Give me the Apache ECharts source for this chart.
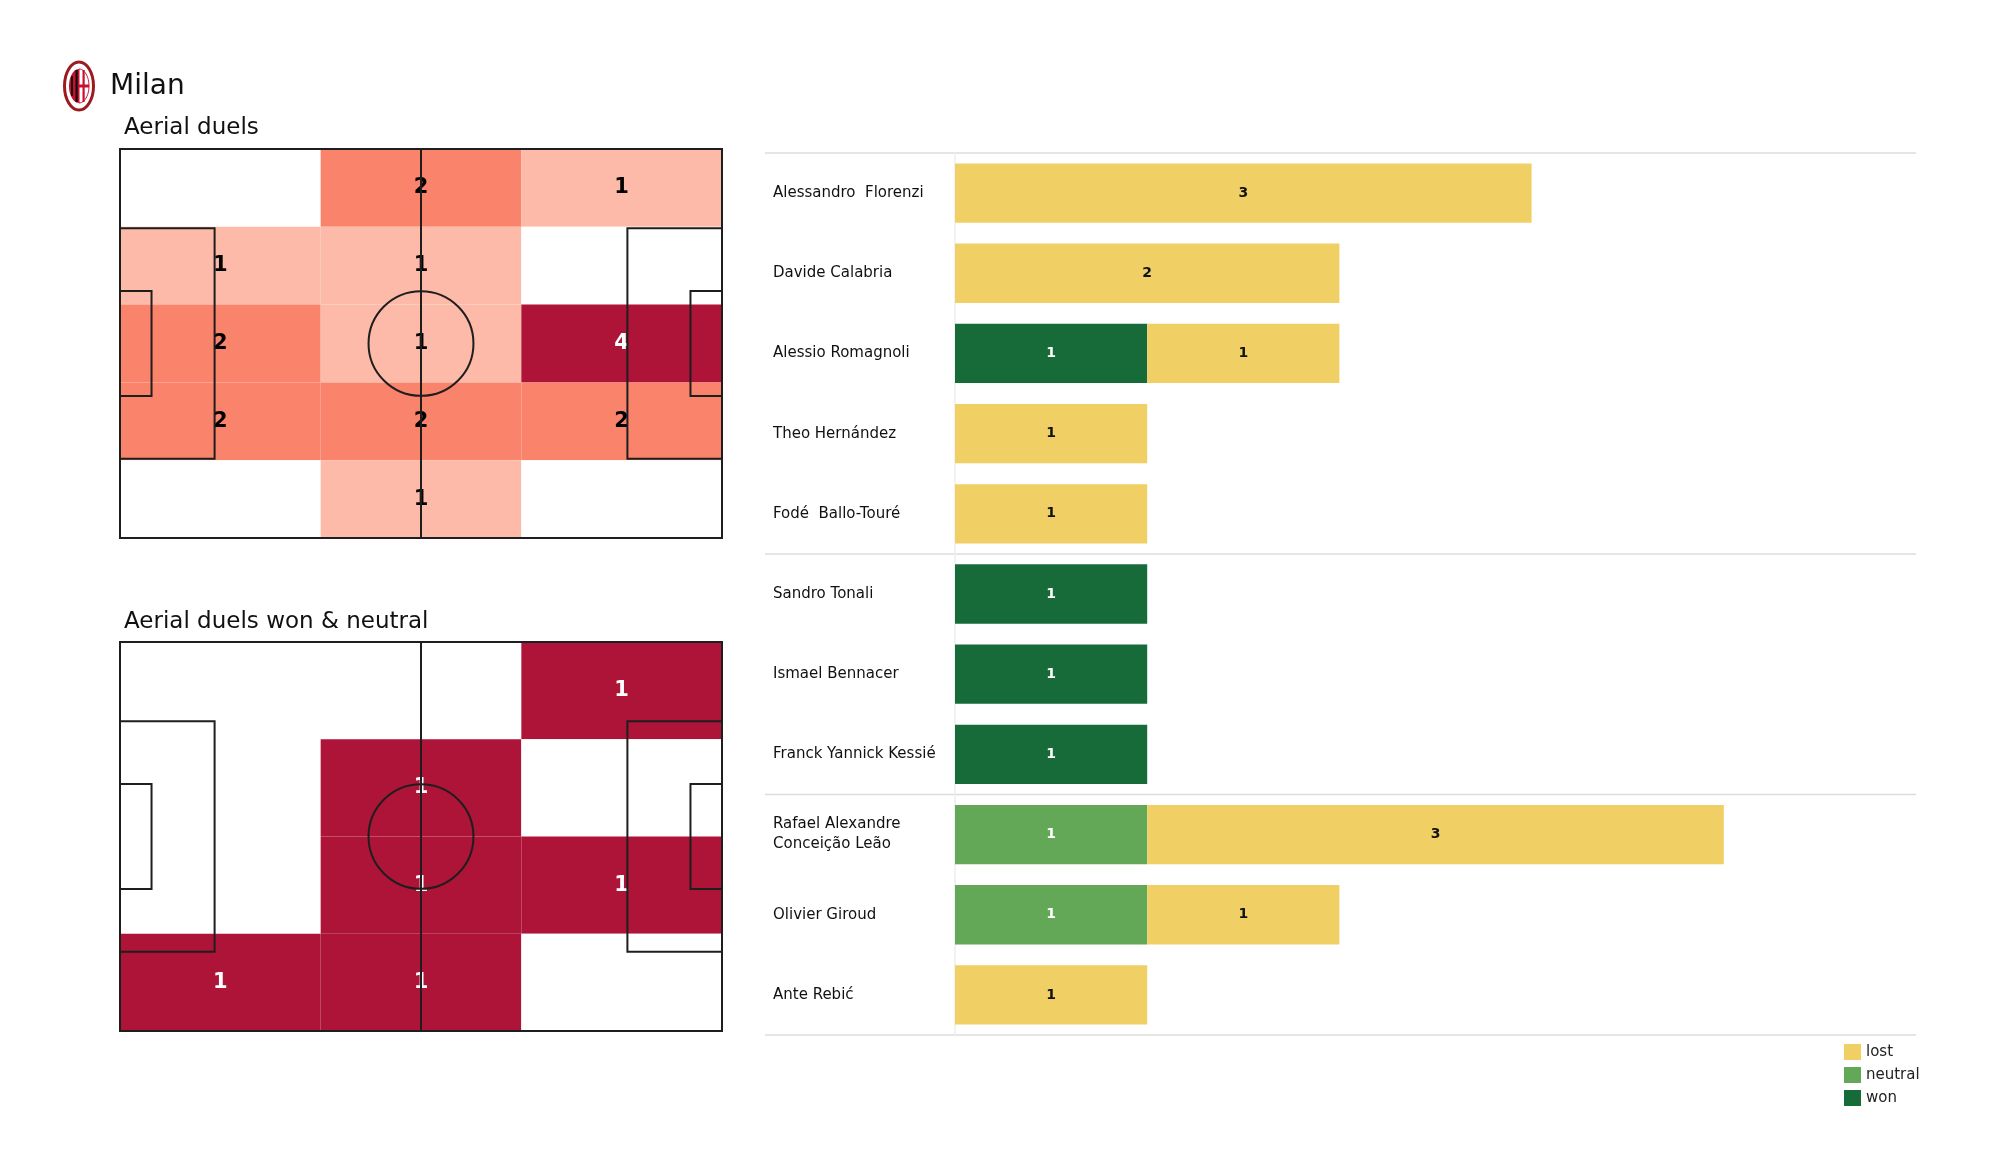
<!DOCTYPE html>
<html><head><meta charset="utf-8">
<script src="https://cdn.jsdelivr.net/npm/echarts@6/dist/echarts.min.js"></script>
<style>html,body{margin:0;padding:0;background:#fff}#c{width:2000px;height:1175px}</style>
</head><body><div id="c"></div>
<script>
// ---------- data ----------
const players = ['Alessandro  Florenzi','Davide Calabria','Alessio Romagnoli','Theo Hernández','Fodé  Ballo-Touré','Sandro Tonali','Ismael Bennacer','Franck Yannick Kessié','Rafael Alexandre\nConceição Leão','Olivier Giroud','Ante Rebić'];
const won     = [0,0,1,0,0,1,1,1,0,0,0];
const neutral = [0,0,0,0,0,0,0,0,1,1,0];
const lost    = [3,2,1,1,1,0,0,0,3,1,1];
const groupBreaks = [0,5,8,11];
const legendNames = ['lost','neutral','won'];
// zone counts, rows top -> bottom, columns left -> right
const aerialZones = [[0,2,1],[1,1,0],[2,1,4],[2,2,2],[0,1,0]];
const wonNeutralZones = [[0,0,1],[0,1,0],[0,1,1],[1,1,0]];

// ---------- pitch geometry (metres) ----------
const PL = 105, PW = 68;
const PEN_D = 16.5, PEN_W = 40.32, SIX_D = 5.5, SIX_W = 18.32, CIRC_R = 9.15;

function zoneCells(z){
  const R = z.length, C = z[0].length, out = [];
  for (let r=0;r<R;r++) for (let c=0;c<C;c++)
    out.push([c*PL/C,(c+1)*PL/C,r*PW/R,(r+1)*PW/R,z[r][c]]);
  return out;
}
function maxOf(z){ return Math.max(...z.flat()); }

function makeCellRender(maxV){
  return function(params, api){
    const p0 = api.coord([api.value(0), api.value(2)]);
    const p1 = api.coord([api.value(1), api.value(3)]);
    const v = api.value(4);
    const x = Math.min(p0[0],p1[0]), y = Math.min(p0[1],p1[1]);
    const w = Math.abs(p1[0]-p0[0]), h = Math.abs(p1[1]-p0[1]);
    const ch = [{type:'rect', shape:{x:x,y:y,width:w,height:h}, style:{fill: v>0 ? api.visual('color') : '#ffffff'}}];
    if (v>0) ch.push({type:'text', x:x+w/2, y:y+h/2, z2:5,
      style:{text:String(v), fill: v>=0.75*maxV ? '#ffffff' : '#000000', font:'bold 21px "DejaVu Sans"', align:'center', verticalAlign:'middle'}});
    return {type:'group', children: ch};
  };
}

function pitchRender(params, api){
  const c = (x,y)=>api.coord([x,y]);
  const st = {stroke:'#1e1e1e', lineWidth:2, fill:null};
  const rectOf = (x0,y0,x1,y1)=>{const a=c(x0,y0),b=c(x1,y1);return {type:'rect',shape:{x:Math.min(a[0],b[0]),y:Math.min(a[1],b[1]),width:Math.abs(b[0]-a[0]),height:Math.abs(b[1]-a[1])},style:st};};
  const ctr = c(PL/2, PW/2);
  const rx = Math.abs(c(PL/2+CIRC_R,PW/2)[0]-ctr[0]);
  const ry = Math.abs(c(PL/2,PW/2+CIRC_R)[1]-ctr[1]);
  const t = c(PL/2,0), b = c(PL/2,PW);
  return {type:'group', children:[
    rectOf(0,0,PL,PW),
    {type:'line', shape:{x1:t[0],y1:t[1],x2:b[0],y2:b[1]}, style:st},
    {type:'ellipse', shape:{cx:ctr[0],cy:ctr[1],rx:rx,ry:ry}, style:st},
    rectOf(0,PW/2-PEN_W/2,PEN_D,PW/2+PEN_W/2),
    rectOf(PL-PEN_D,PW/2-PEN_W/2,PL,PW/2+PEN_W/2),
    rectOf(0,PW/2-SIX_W/2,SIX_D,PW/2+SIX_W/2),
    rectOf(PL-SIX_D,PW/2-SIX_W/2,PL,PW/2+SIX_W/2)
  ]};
}

function sepRender(params, api){
  const y = api.value(0);
  const a = api.coord([0,y]), b = api.coord([1,y]);
  return {type:'line', shape:{x1:a[0],y1:a[1],x2:b[0],y2:b[1]}, style:{stroke:'#dcdcdc', lineWidth:1.5}};
}

function halfEllipse(rx, ry, side){
  const pts = [];
  for (let i=0;i<=24;i++){
    const a = -Math.PI/2 + Math.PI*i/24;
    pts.push([side*rx*Math.cos(a), ry*Math.sin(a)]);
  }
  return pts;
}

const chart = echarts.init(document.getElementById('c'), null, {renderer:'canvas'});
const hiddenVal = (min,max,inv,gi)=>({type:'value', min:min, max:max, inverse:inv, show:false, gridIndex:gi, splitLine:{show:false}});

const COLORS = {won:'#176b38', neutral:'#62a856', lost:'#f0cf65'};

const option = {
  animation:false,
  backgroundColor:'#ffffff',
  textStyle:{fontFamily:'"DejaVu Sans", sans-serif'},
  grid:[
    {left:120, top:149, width:602, height:389},
    {left:120, top:642, width:602, height:389},
    {left:955, top:153, width:961, height:882},
    {left:765, top:153, width:1151, height:882}
  ],
  xAxis:[
    hiddenVal(0,PL,false,0),
    hiddenVal(0,PL,false,1),
    {type:'value', gridIndex:2, min:0, max:5, interval:1, show:false},
    hiddenVal(0,1,false,3)
  ],
  yAxis:[
    hiddenVal(0,PW,true,0),
    hiddenVal(0,PW,true,1),
    {type:'category', gridIndex:2, data:players, inverse:true,
     axisLine:{show:true, lineStyle:{color:'#eeeeee', width:1.5}}, axisTick:{show:false},
     axisLabel:{align:'left', margin:182, fontSize:15, color:'#111111', lineHeight:20, padding:[4,0,0,0]}},
    hiddenVal(0,players.length,true,3)
  ],
  visualMap:[
    {type:'continuous', show:false, seriesIndex:0, dimension:4, min:0, max:maxOf(aerialZones),
     inRange:{color:['#ffffff','#fdbaa8','#f9836b','#d2434a','#ad1438']}},
    {type:'continuous', show:false, seriesIndex:2, dimension:4, min:0, max:maxOf(wonNeutralZones),
     inRange:{color:['#ffffff','#ad1438']}}
  ],
  legend:{data:legendNames, orient:'vertical', left:1839, top:1039, itemWidth:17, itemHeight:16, itemGap:7,
    icon:'rect', textStyle:{fontSize:15, color:'#222222'}, selectedMode:false},
  graphic:[
    {type:'group', x:79, y:86, children:[
      {type:'ellipse', shape:{cx:0,cy:0,rx:14.5,ry:24}, style:{fill:'#ffffff', stroke:'#9b1b1f', lineWidth:3}},
      {type:'polygon', shape:{points:halfEllipse(10,17,-1)}, style:{fill:'#c8102e'}},
      {type:'polygon', shape:{points:halfEllipse(10,17,1)}, style:{fill:'#ffffff', stroke:'#c8102e', lineWidth:1}},
      {type:'rect', shape:{x:-8,y:-10,width:2,height:20}, style:{fill:'#111111'}},
      {type:'rect', shape:{x:-3.5,y:-16,width:2.2,height:32}, style:{fill:'#111111'}},
      {type:'rect', shape:{x:3.5,y:-16,width:2.2,height:32}, style:{fill:'#c8102e'}},
      {type:'rect', shape:{x:0,y:-1.5,width:10,height:3}, style:{fill:'#c8102e'}}
    ]},
    {type:'text', x:110, y:87, style:{text:'Milan', font:'28px "DejaVu Sans"', fill:'#111111', verticalAlign:'middle'}},
    {type:'text', x:124, y:128, style:{text:'Aerial duels', font:'23px "DejaVu Sans"', fill:'#111111', verticalAlign:'middle'}},
    {type:'text', x:124, y:622, style:{text:'Aerial duels won & neutral', font:'23px "DejaVu Sans"', fill:'#111111', verticalAlign:'middle'}}
  ],
  series:[
    {type:'custom', xAxisIndex:0, yAxisIndex:0, data:zoneCells(aerialZones), renderItem:makeCellRender(maxOf(aerialZones)), silent:true, z:1},
    {type:'custom', xAxisIndex:0, yAxisIndex:0, data:[[0]], renderItem:pitchRender, silent:true, z:3},
    {type:'custom', xAxisIndex:1, yAxisIndex:1, data:zoneCells(wonNeutralZones), renderItem:makeCellRender(maxOf(wonNeutralZones)), silent:true, z:1},
    {type:'custom', xAxisIndex:1, yAxisIndex:1, data:[[0]], renderItem:pitchRender, silent:true, z:3},
    {type:'custom', xAxisIndex:3, yAxisIndex:3, data:groupBreaks.map(v=>[v]), renderItem:sepRender, silent:true, z:0},
    {name:'won', type:'bar', stack:'d', xAxisIndex:2, yAxisIndex:2, data:won, barCategoryGap:'26%',
     itemStyle:{color:COLORS.won},
     label:{show:true, position:'inside', color:'#ffffff', fontWeight:'bold', fontSize:14, formatter:p=>p.value>0?p.value:''}},
    {name:'neutral', type:'bar', stack:'d', xAxisIndex:2, yAxisIndex:2, data:neutral, barCategoryGap:'26%',
     itemStyle:{color:COLORS.neutral},
     label:{show:true, position:'inside', color:'#ffffff', fontWeight:'bold', fontSize:14, formatter:p=>p.value>0?p.value:''}},
    {name:'lost', type:'bar', stack:'d', xAxisIndex:2, yAxisIndex:2, data:lost, barCategoryGap:'26%',
     itemStyle:{color:COLORS.lost},
     label:{show:true, position:'inside', color:'#111111', fontWeight:'bold', fontSize:14, formatter:p=>p.value>0?p.value:''}}
  ]
};
chart.setOption(option);
</script></body></html>
